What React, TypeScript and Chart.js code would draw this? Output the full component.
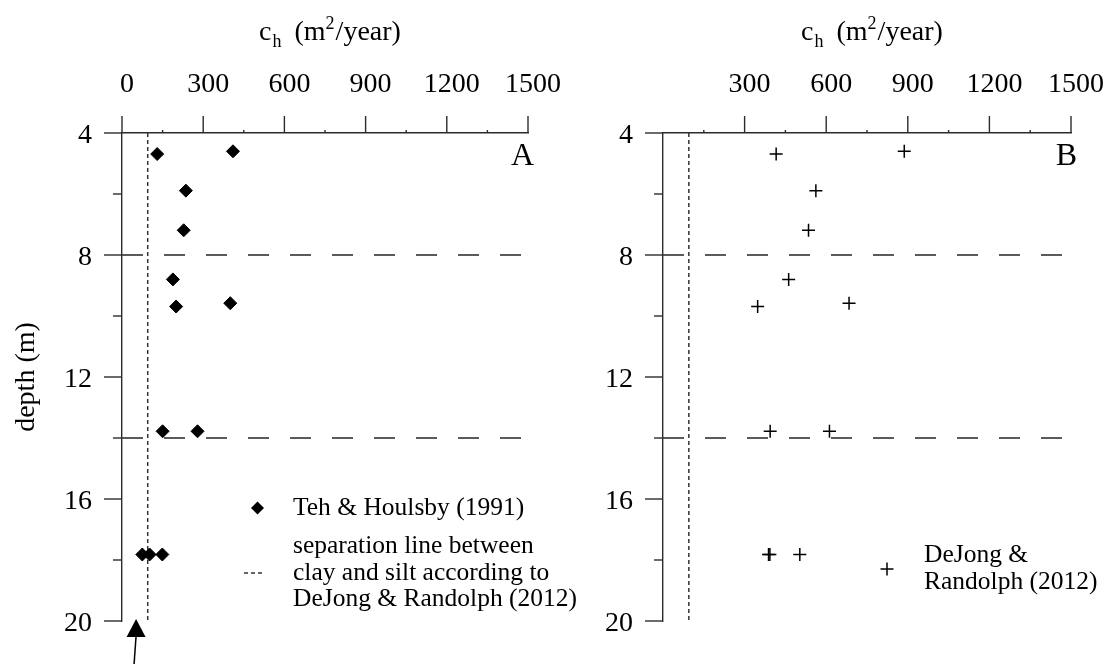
import React, { useEffect, useRef } from "react";
import { Chart, registerables } from "chart.js";

Chart.register(...registerables);

const SERIF = "'Liberation Serif', 'Times New Roman', Times, serif";
const INK = "#000000";
const AXIS = "#2b2b2b";

// depth axis (m)
const depthMin = 4;
const depthMax = 20;
const depthTicks = [4, 8, 12, 16, 20];
const depthMinorTicks = [6, 10, 14, 18];

// c_h axis (m²/year)
const chMin = 0;
const chMax = 1500;
const chTicksA = [0, 300, 600, 900, 1200, 1500];
const chTicksB = [300, 600, 900, 1200, 1500];
const chMinorTicks = [150, 450, 750, 1050, 1350];

// Teh & Houlsby (1991)
const tehCh = [130, 410, 236, 228, 188, 200, 400, 150, 279, 75, 102, 149];
const tehDepth = [4.69, 4.6, 5.89, 7.19, 8.8, 9.69, 9.58, 13.78, 13.78, 17.82, 17.82, 17.82];

// DeJong & Randolph (2012)
const djrCh = [416, 887, 562, 535, 462, 348, 684, 394, 612, 388, 393, 503];
const djrDepth = [4.69, 4.6, 5.89, 7.19, 8.8, 9.69, 9.58, 13.78, 13.78, 17.82, 17.82, 17.82];

// layer boundaries (m), clay/silt separation (m²/year), marked c_h on panel A
const layerDepths = [8, 14];
const claySiltCh = 95;
const arrowCh = 52;

const CANVAS_H = 664;
const PLOT_TOP = 133;
const PLOT_BOTTOM = 621;

type PanelSpec = {
  letter: string;
  ch: number[];
  depth: number[];
  marker: "rectRot" | "cross";
  xTicks: number[];
  yTitle: string;
  yAxisWidth: number;
  padRight: number;
  legendLines: string[];
  legendKind: "A" | "B";
};

function drawDiamond(ctx: CanvasRenderingContext2D, x: number, y: number, r: number) {
  ctx.beginPath();
  ctx.moveTo(x, y - r);
  ctx.lineTo(x + r, y);
  ctx.lineTo(x, y + r);
  ctx.lineTo(x - r, y);
  ctx.closePath();
  ctx.fill();
}

function drawPlus(ctx: CanvasRenderingContext2D, x: number, y: number, r: number) {
  ctx.beginPath();
  ctx.moveTo(x - r, y);
  ctx.lineTo(x + r, y);
  ctx.moveTo(x, y - r);
  ctx.lineTo(x, y + r);
  ctx.stroke();
}

function extrasPlugin(spec: PanelSpec) {
  return {
    id: "panelExtras" + spec.letter,
    afterDraw(chart: any) {
      const { ctx, chartArea: a, scales } = chart;
      const xs = scales.x;
      const ys = scales.y;
      ctx.save();

      // tick marks
      ctx.strokeStyle = AXIS;
      ctx.lineWidth = 1.4;
      const seg = (x1: number, y1: number, x2: number, y2: number) => {
        ctx.beginPath();
        ctx.moveTo(x1, y1);
        ctx.lineTo(x2, y2);
        ctx.stroke();
      };
      for (const v of spec.xTicks) {
        const px = xs.getPixelForValue(v);
        seg(px, a.top, px, a.top - 17);
      }
      for (const v of chMinorTicks) {
        const px = xs.getPixelForValue(v);
        seg(px, a.top, px, a.top - 3);
      }
      for (const v of depthTicks) {
        const py = ys.getPixelForValue(v);
        seg(a.left - 18, py, a.left, py);
      }
      for (const v of depthMinorTicks) {
        const py = ys.getPixelForValue(v);
        seg(a.left - 9, py, a.left, py);
      }

      // axis title: c_h (m²/year)
      ctx.fillStyle = INK;
      ctx.textBaseline = "alphabetic";
      ctx.textAlign = "left";
      const big = `28px ${SERIF}`;
      const small = `18px ${SERIF}`;
      const parts = [
        { t: "c", f: big, dy: 0, gap: 0 },
        { t: "h", f: small, dy: 7, gap: 1 },
        { t: " (m", f: big, dy: 0, gap: 6 },
        { t: "2", f: small, dy: -11, gap: 0 },
        { t: "/year)", f: big, dy: 0, gap: 1 },
      ];
      let total = 0;
      for (const p of parts) {
        ctx.font = p.f;
        total += p.gap + ctx.measureText(p.t).width;
      }
      const baseY = 40;
      let cx = (a.left + a.right) / 2 + 5 - total / 2;
      for (const p of parts) {
        ctx.font = p.f;
        cx += p.gap;
        ctx.fillText(p.t, cx, baseY + p.dy);
        cx += ctx.measureText(p.t).width;
      }

      // panel letter
      ctx.font = `32px ${SERIF}`;
      ctx.textAlign = "right";
      ctx.fillText(spec.letter, a.right + 6, a.top + 32);

      // legend
      ctx.textAlign = "left";
      ctx.textBaseline = "middle";
      ctx.font = `25.5px ${SERIF}`;
      if (spec.legendKind === "A") {
        drawDiamond(ctx, a.left + 135.5, a.top + 375, 6.5);
        const tx = a.left + 171;
        const rows = [375, 413, 440, 466.5];
        spec.legendLines.forEach((s, i) => ctx.fillText(s, tx, a.top + rows[i]));
        ctx.strokeStyle = "#333";
        ctx.lineWidth = 1.5;
        ctx.setLineDash([4, 3]);
        seg(a.left + 122, a.top + 440, a.left + 141, a.top + 440);
        ctx.setLineDash([]);

        // arrow pointing at the c_h axis position below the plot
        const ax = xs.getPixelForValue(arrowCh);
        const tip = ys.getPixelForValue(depthMax) - 2;
        ctx.fillStyle = INK;
        ctx.beginPath();
        ctx.moveTo(ax, tip);
        ctx.lineTo(ax + 9.5, tip + 18);
        ctx.lineTo(ax - 9.5, tip + 18);
        ctx.closePath();
        ctx.fill();
        ctx.strokeStyle = INK;
        ctx.lineWidth = 1.5;
        seg(ax, tip + 17, ax - 2, CANVAS_H);
      } else {
        ctx.strokeStyle = INK;
        ctx.lineWidth = 1.5;
        drawPlus(ctx, a.left + 224, a.top + 436, 6.5);
        const tx = a.left + 261;
        const rows = [422.6, 449];
        spec.legendLines.forEach((s, i) => ctx.fillText(s, tx, a.top + rows[i]));
      }
      ctx.restore();
    },
  };
}

function buildConfig(spec: PanelSpec): any {
  const points = spec.ch.map((c, i) => ({ x: c, y: spec.depth[i] }));
  const markerDs =
    spec.marker === "rectRot"
      ? {
          data: points,
          pointStyle: "rectRot",
          pointRadius: 6.5,
          backgroundColor: INK,
          borderColor: INK,
          borderWidth: 1,
          showLine: false,
        }
      : {
          data: points,
          pointStyle: "cross",
          pointRadius: 6.5,
          backgroundColor: INK,
          borderColor: INK,
          borderWidth: 1.5,
          showLine: false,
        };
  const layerDs = layerDepths.map((d) => ({
    data: [
      { x: chMin, y: d },
      { x: chMax, y: d },
    ],
    showLine: true,
    borderColor: "#333",
    borderWidth: 1.6,
    borderDash: [21, 21],
    pointRadius: 0,
  }));
  const sepDs = {
    data: [
      { x: claySiltCh, y: depthMin },
      { x: claySiltCh, y: depthMax },
    ],
    showLine: true,
    borderColor: "#333",
    borderWidth: 1.5,
    borderDash: [4, 3],
    pointRadius: 0,
  };

  return {
    type: "scatter",
    data: { datasets: [markerDs, sepDs, ...layerDs] },
    options: {
      responsive: false,
      maintainAspectRatio: false,
      devicePixelRatio: 1,
      animation: false,
      events: [],
      layout: {
        padding: { left: 0, top: 0, right: spec.padRight, bottom: CANVAS_H - PLOT_BOTTOM },
      },
      plugins: { legend: { display: false }, tooltip: { enabled: false } },
      scales: {
        x: {
          type: "linear",
          position: "top",
          min: chMin,
          max: chMax,
          grid: { display: false, drawTicks: false },
          border: { display: true, color: AXIS, width: 1.4 },
          ticks: {
            stepSize: 300,
            autoSkip: false,
            maxRotation: 0,
            padding: 32,
            labelOffset: 5,
            color: INK,
            font: { family: SERIF, size: 28 },
            callback: (v: number) => (spec.xTicks.includes(v) ? String(v) : ""),
          },
          afterFit: (s: any) => {
            s.height = PLOT_TOP;
            s.paddingLeft = 0;
            s.paddingRight = 0;
          },
        },
        y: {
          type: "linear",
          position: "left",
          reverse: true,
          min: depthMin,
          max: depthMax,
          grid: { display: false, drawTicks: false },
          border: { display: true, color: AXIS, width: 1.4 },
          ticks: {
            stepSize: 4,
            autoSkip: false,
            padding: 30,
            labelOffset: 3,
            color: INK,
            font: { family: SERIF, size: 28 },
            callback: (v: number) => (depthTicks.includes(v) ? String(v) : ""),
          },
          title: {
            display: spec.yTitle !== "",
            text: spec.yTitle,
            color: INK,
            font: { family: SERIF, size: 28 },
            padding: { top: 10, bottom: 0 },
          },
          afterFit: (s: any) => {
            s.width = spec.yAxisWidth;
            s.paddingTop = 0;
            s.paddingBottom = 0;
          },
        },
      },
    },
    plugins: [extrasPlugin(spec)],
  };
}

const panelA: PanelSpec = {
  letter: "A",
  ch: tehCh,
  depth: tehDepth,
  marker: "rectRot",
  xTicks: chTicksA,
  yTitle: "depth (m)",
  yAxisWidth: 122,
  padRight: 620 - 528,
  legendLines: [
    "Teh & Houlsby (1991)",
    "separation line between",
    "clay and silt according to",
    "DeJong & Randolph (2012)",
  ],
  legendKind: "A",
};

const panelB: PanelSpec = {
  letter: "B",
  ch: djrCh,
  depth: djrDepth,
  marker: "cross",
  xTicks: chTicksB,
  yTitle: "",
  yAxisWidth: 110,
  padRight: 554 - 518,
  legendLines: ["DeJong &", "Randolph (2012)"],
  legendKind: "B",
};

function Panel({ spec, left, width }: { spec: PanelSpec; left: number; width: number }) {
  const ref = useRef<HTMLCanvasElement>(null);
  useEffect(() => {
    const chart = new Chart(ref.current as HTMLCanvasElement, buildConfig(spec));
    return () => chart.destroy();
  }, [spec]);
  return (
    <canvas
      ref={ref}
      width={width}
      height={CANVAS_H}
      style={{ position: "absolute", left, top: 0, width, height: CANVAS_H, display: "block" }}
    />
  );
}

export default function App() {
  return (
    <div
      style={{
        position: "absolute",
        left: 0,
        top: 0,
        width: 1107,
        height: CANVAS_H,
        background: "#ffffff",
        overflow: "hidden",
      }}
    >
      <Panel spec={panelA} left={0} width={620} />
      <Panel spec={panelB} left={553} width={554} />
    </div>
  );
}
